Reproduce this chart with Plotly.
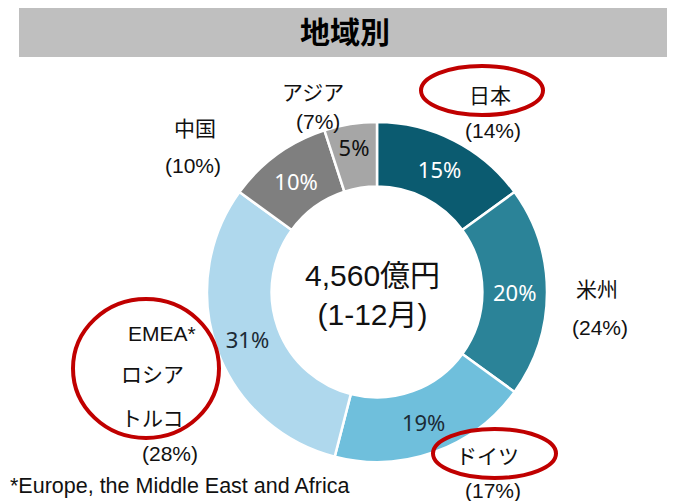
import plotly.graph_objects as go

# データ
regions = ["日本", "米州", "ドイツ", "EMEA", "中国", "アジア"]
share_now = [15, 20, 19, 31, 10, 5]
share_prev = [14, 24, 17, 28, 10, 7]
colors = ["#0b5b70", "#2b8398", "#6fbfdc", "#afd8ed", "#7f7f7f", "#a6a6a6"]
text_colors = ["white", "white", "#1c2b36", "#1c2b36", "white", "#111111"]
outer_names = [["日本"], ["米州"], ["ドイツ"], ["EMEA*", "ロシア", "トルコ"], ["中国"], ["アジア"]]

JP = "Noto Sans CJK JP"
MIX = "Liberation Sans, Noto Sans CJK JP"

# ページの body margin (8px) を考慮した図のサイズ
W, H, OFF = 659, 493, 8


def px(x):
    return (x - OFF) / W


def py(y):
    return 1 - (y - OFF) / H


fig = go.Figure()
fig.add_trace(go.Pie(
    labels=regions,
    values=share_now,
    sort=False,
    direction="clockwise",
    rotation=0,
    hole=0.62,
    marker=dict(colors=colors, line=dict(color="white", width=2.5)),
    texttemplate="%{value}%",
    textposition="inside",
    insidetextorientation="horizontal",
    textfont=dict(family="Noto Sans", size=22, color=text_colors),
    domain=dict(x=[px(207), px(547)], y=[py(462), py(122)]),
    showlegend=False,
    hoverinfo="label+value",
))

# タイトルバー
fig.add_shape(type="rect", xref="paper", yref="paper", x0=px(19), x1=1.02, y0=py(57), y1=1.02,
              fillcolor="#bfbfbf", line=dict(width=0), layer="below")
fig.add_annotation(x=px(345), y=py(30), xref="paper", yref="paper", text="<b>地域別</b>",
                   xanchor="center", yanchor="middle",
                   showarrow=False, font=dict(family=JP, size=30, color="black"))

# 中央テキスト
fig.add_annotation(x=px(372), y=py(295), xref="paper", yref="paper",
                   text="4,560億円<br>(1-12月)", showarrow=False,
                   xanchor="center", yanchor="middle",
                   font=dict(family=MIX, size=30, color="#111111"))

# 外側ラベル (名前の各行の位置, 割合の位置)
pos = [([(490, 95)], (493, 130)),
       ([(597, 289)], (600, 327)),
       ([(487, 456)], (493, 490)),
       ([(162, 333), (152, 374), (152, 418)], (170, 453)),
       ([(195, 128)], (193, 165)),
       ([(313, 92)], (318, 121))]
for lines, pct, (line_pos, (qx, qy)) in zip(outer_names, share_prev, pos):
    for txt, (nx, ny) in zip(lines, line_pos):
        fig.add_annotation(x=px(nx), y=py(ny), xref="paper", yref="paper", text=txt,
                           xanchor="center", yanchor="middle",
                           showarrow=False, font=dict(family=MIX, size=21, color="#111111"))
    fig.add_annotation(x=px(qx), y=py(qy), xref="paper", yref="paper", text=f"({pct}%)",
                       xanchor="center", yanchor="middle",
                       showarrow=False, font=dict(family=MIX, size=21, color="#111111"))

# 赤い楕円
ellipses = [(421, 66, 543, 115), (433, 429, 556, 478), (73, 299, 219, 438)]
for x0, y0, x1, y1 in ellipses:
    fig.add_shape(type="circle", xref="paper", yref="paper",
                  x0=px(x0), x1=px(x1), y0=py(y1), y1=py(y0),
                  line=dict(color="#c00000", width=4))

# 注記
fig.add_annotation(x=px(8), y=py(486), xref="paper", yref="paper", xanchor="left", yanchor="middle",
                   text="*Europe, the Middle East and Africa", showarrow=False,
                   font=dict(family="Liberation Sans", size=21.5, color="#111111"))

fig.update_layout(
    width=W, height=H,
    margin=dict(l=0, r=0, t=0, b=0),
    paper_bgcolor="white",
    plot_bgcolor="white",
)

fig.write_html("out.html")
